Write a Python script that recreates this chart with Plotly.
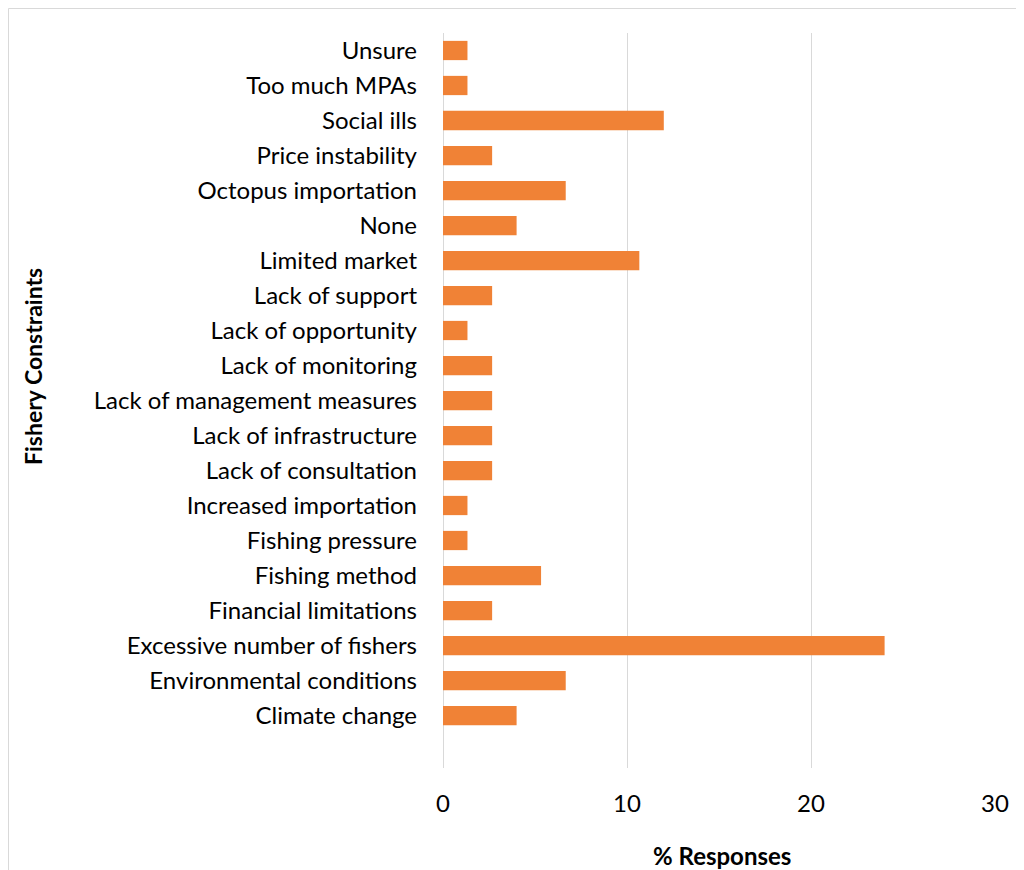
import plotly.graph_objects as go

categories = ["Climate change", "Environmental conditions", "Excessive number of fishers",
              "Financial limitations", "Fishing method", "Fishing pressure",
              "Increased importation", "Lack of consultation", "Lack of infrastructure",
              "Lack of management measures", "Lack of monitoring", "Lack of opportunity",
              "Lack of support", "Limited market", "None", "Octopus importation",
              "Price instability", "Social ills", "Too much MPAs", "Unsure"]
values = [4.0, 6.67, 24.0, 2.67, 5.33, 1.33, 1.33, 2.67, 2.67, 2.67, 2.67, 1.33,
          2.67, 10.67, 4.0, 6.67, 2.67, 12.0, 1.33, 1.33]
x_ticks = [0, 10, 20, 30]

OFF = 8  # default page body margin
W, H = 1024 - OFF, 870 - OFF
L, R, T, B = 443 - OFF, 995 - OFF, 33 - OFF, 768 - OFF

fig = go.Figure(go.Bar(
    y=list(range(len(categories))), x=values, orientation="h",
    marker=dict(color="#F08236", line=dict(width=0)), width=0.55,
))

def px2x(px):
    return (px - OFF - L) / (R - L)

def py2y(py):
    return (B - (py - OFF)) / (B - T)

fig.update_layout(
    width=W, height=H,
    margin=dict(l=L, r=W - R, t=T, b=H - B, autoexpand=False),
    paper_bgcolor="white", plot_bgcolor="white",
    font=dict(family="Lato, Carlito, Calibri, sans-serif", size=24, color="#000000"),
    showlegend=False,
    xaxis=dict(range=[0, 30], tickvals=x_ticks, showgrid=True, gridcolor="#D9D9D9",
               gridwidth=1, zeroline=True, zerolinecolor="#D9D9D9", zerolinewidth=1,
               showline=False, ticks="", ticklabelstandoff=19,
               tickfont=dict(size=24)),
    yaxis=dict(range=[-1.5, 19.5], tickvals=list(range(len(categories))),
               ticktext=categories, showgrid=False, zeroline=False, showline=False,
               ticks="", ticklabelstandoff=25, tickfont=dict(size=24)),
    shapes=[dict(type="rect", xref="paper", yref="paper",
                 x0=px2x(OFF + 0.5), x1=px2x(1100), y0=py2y(1000), y1=py2y(OFF + 0.5),
                 line=dict(color="#D9D9D9", width=1), fillcolor="rgba(0,0,0,0)", layer="below")],
    annotations=[
        dict(text="<b>Fishery Constraints</b>", xref="paper", yref="paper",
             x=px2x(33), y=py2y(367), textangle=-90, showarrow=False,
             font=dict(size=23), xanchor="center", yanchor="middle"),
        dict(text="<b>% Responses</b>", xref="paper", yref="paper",
             x=px2x(722), y=py2y(855), showarrow=False,
             font=dict(size=24), xanchor="center", yanchor="middle"),
    ],
)

fig.write_html("out.html")
